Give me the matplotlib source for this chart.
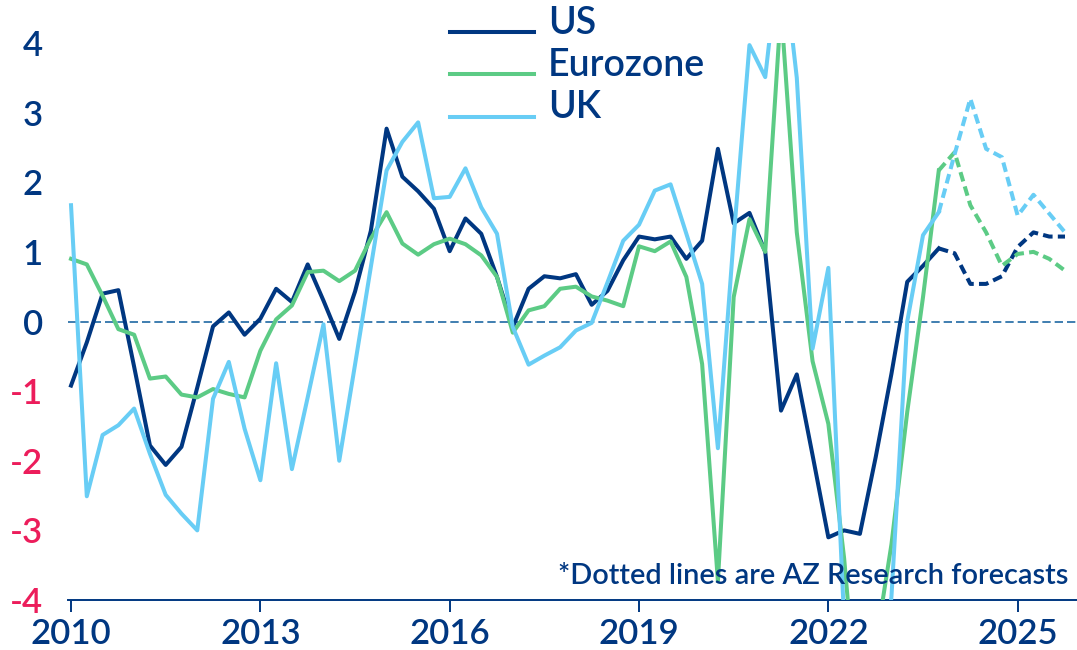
import numpy as np
import pandas as pd
import matplotlib
matplotlib.use("Agg")
import matplotlib.pyplot as plt
from matplotlib.legend_handler import HandlerLine2D

plt.rcParams['font.family'] = ['Lato', 'DejaVu Sans']

# quarterly series, 2010Q1 .. 2025Q4 (values beyond +/-4 are cut off by the axis)
quarters = pd.period_range("2010Q1", "2025Q4", freq="Q")
forecast_from = pd.Period("2023Q4", freq="Q")

us = [-0.92, -0.30, 0.40, 0.45, -0.65, -1.78, -2.06, -1.80,
      -0.95, -0.07, 0.13, -0.19, 0.04, 0.47, 0.28, 0.82,
      0.30, -0.25, 0.43, 1.30, 2.77, 2.08, 1.87, 1.62,
      1.01, 1.48, 1.26, 0.64, -0.08, 0.47, 0.65, 0.62,
      0.68, 0.24, 0.44, 0.88, 1.22, 1.18, 1.22, 0.90,
      1.16, 2.48, 1.41, 1.56, 1.00, -1.28, -0.76, -1.92,
      -3.10, -3.00, -3.05, -1.95, -0.75, 0.57, 0.80, 1.05,
      0.98, 0.54, 0.54, 0.65, 1.07, 1.28, 1.22, 1.22]

eurozone = [0.90, 0.82, 0.37, -0.11, -0.19, -0.82, -0.79, -1.05,
            -1.09, -0.97, -1.04, -1.09, -0.42, 0.03, 0.23, 0.71,
            0.73, 0.58, 0.73, 1.19, 1.57, 1.12, 0.96, 1.11,
            1.19, 1.11, 0.95, 0.64, -0.16, 0.16, 0.22, 0.47,
            0.50, 0.36, 0.30, 0.22, 1.08, 1.01, 1.15, 0.64,
            -0.61, -3.73, 0.35, 1.47, 1.00, 4.50, 1.28, -0.57,
            -1.47, -3.40, -6.00, -4.65, -3.20, -1.30, 0.35, 2.17,
            2.43, 1.67, 1.28, 0.80, 0.97, 1.00, 0.90, 0.73]

uk = [1.67, -2.51, -1.63, -1.49, -1.25, -1.90, -2.49, -2.76,
      -3.00, -1.11, -0.58, -1.54, -2.28, -0.60, -2.12, -1.09,
      -0.04, -2.00, -0.62, 0.78, 2.17, 2.58, 2.86, 1.77,
      1.79, 2.20, 1.64, 1.26, -0.08, -0.62, -0.49, -0.37,
      -0.13, -0.02, 0.56, 1.16, 1.39, 1.88, 1.97, 1.26,
      0.54, -1.82, 1.20, 3.97, 3.51, 5.50, 3.50, -0.39,
      0.77, -4.30, -7.00, -6.00, -3.95, 0.00, 1.24, 1.57,
      2.40, 3.20, 2.48, 2.36, 1.52, 1.82, 1.55, 1.28]

names = ["US", "Eurozone", "UK"]
year_ticks = [2010, 2013, 2016, 2019, 2022, 2025]
y_ticks = [-4, -3, -2, -1, 0, 1, 2, 3, 4]
note = "*Dotted lines are AZ Research forecasts"

navy = "#003781"
green = "#5ccb85"
light = "#68cdf5"
red = "#ec1d5b"
zero_col = "#1f68a3"


class LowLine(HandlerLine2D):
    # legend line sits near the text baseline, as in the original
    def create_artists(self, legend, orig_handle, xdescent, ydescent,
                       width, height, fontsize, trans):
        arts = super().create_artists(legend, orig_handle, xdescent, ydescent,
                                      width, height, fontsize, trans)
        for a in arts:
            a.set_ydata(np.full(len(a.get_ydata()), 1.2))
        return arts


x = np.asarray(quarters.year + (quarters.quarter - 1) / 4, dtype=float)
split = quarters.get_loc(forecast_from)

fig = plt.figure(figsize=(10.77, 6.5), dpi=100)
ax = fig.add_axes([68 / 1077, 1 - 600 / 650, 1 - 68 / 1077, (600 - 43) / 650])

ax.axhline(0, color=zero_col, lw=1.2, ls=(0, (5, 2.4)), zorder=1)

handles = []
for vals, col, name in zip([us, eurozone, uk], [navy, green, light], names):
    vals = np.asarray(vals)
    h, = ax.plot(x[:split + 1], vals[:split + 1], color=col, lw=2.9, label=name, zorder=3)
    ax.plot(x[split:], vals[split:], color=col, lw=2.9, ls=(0, (2.4, 1.3)),
            dash_capstyle='butt', zorder=3)
    handles.append(h)

ax.set_xlim(2009.952, 2025.94)
ax.set_ylim(-4, 4)

for s in ["top", "right", "left"]:
    ax.spines[s].set_visible(False)
ax.spines["bottom"].set_color(navy)
ax.spines["bottom"].set_linewidth(1.4)

ax.set_xticks(year_ticks)
ax.set_xticklabels([str(y) for y in year_ticks])
ax.tick_params(axis='x', length=8.6, width=1.4, color=navy, pad=4,
               labelsize=25, labelcolor=navy)
ax.set_yticks(y_ticks)
ax.set_yticklabels([str(v) for v in y_ticks])
ax.tick_params(axis='y', length=0, pad=18, labelsize=25)
for lab, v in zip(ax.get_yticklabels(), y_ticks):
    lab.set_color(red if v < 0 else navy)
for lab in ax.get_xticklabels() + ax.get_yticklabels():
    lab.set_fontweight(600)

leg = fig.legend(handles=handles, loc='upper left', bbox_to_anchor=(450 / 1077, 1 - 6 / 650),
                 frameon=False, fontsize=27, handlelength=2.25, handletextpad=0.36,
                 labelspacing=0.19, borderpad=0, borderaxespad=0,
                 handler_map={h: LowLine() for h in handles})
for t in leg.get_texts():
    t.set_color(navy)
    t.set_fontweight(600)

fig.text(1068 / 1077, 1 - 583.5 / 650, note, ha='right', va='baseline',
         fontsize=20.8, color=navy, fontweight=600)

fig.savefig("out.png", dpi=100)
